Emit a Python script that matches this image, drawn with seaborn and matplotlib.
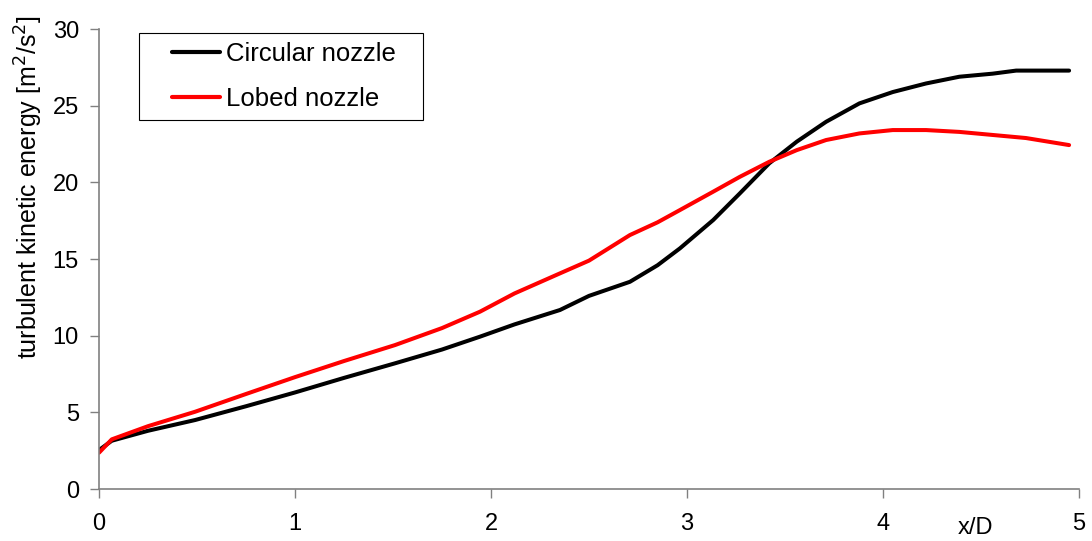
import matplotlib
matplotlib.use("Agg")
import matplotlib.pyplot as plt
from matplotlib.patches import Rectangle
import pandas as pd
import seaborn as sns

# values
x_circular = [0, 0.065, 0.25, 0.49, 0.75, 1.0, 1.25, 1.51, 1.75, 1.944, 2.12, 2.352, 2.5,
              2.709, 2.85, 2.964, 3.134, 3.27, 3.42, 3.56, 3.71, 3.88, 4.05, 4.22, 4.39,
              4.56, 4.68, 4.95]
k_circular = [2.54, 3.15, 3.8, 4.5, 5.4, 6.3, 7.25, 8.2, 9.1, 9.94, 10.74, 11.68, 12.6,
              13.52, 14.6, 15.7, 17.55, 19.29, 21.25, 22.66, 23.96, 25.16, 25.9, 26.46, 26.9,
              27.1, 27.3, 27.3]

x_lobed = [0, 0.065, 0.25, 0.49, 0.75, 1.0, 1.25, 1.51, 1.75, 1.944, 2.12, 2.352, 2.5,
           2.709, 2.85, 2.964, 3.134, 3.27, 3.42, 3.56, 3.71, 3.88, 4.05, 4.22, 4.39,
           4.56, 4.73, 4.95]
k_lobed = [2.37, 3.24, 4.1, 5.04, 6.2, 7.3, 8.35, 9.39, 10.5, 11.57, 12.76, 14.07, 14.9,
           16.57, 17.4, 18.2, 19.4, 20.37, 21.35, 22.11, 22.77, 23.2, 23.42, 23.42, 23.3,
           23.1, 22.9, 22.44]

series_names = ["Circular nozzle", "Lobed nozzle"]
series_colors = ["#000000", "#ff0000"]
x_ticks = [0, 1, 2, 3, 4, 5]
y_ticks = [0, 5, 10, 15, 20, 25, 30]

df = pd.concat([
    pd.DataFrame({"x": x_circular, "k": k_circular, "nozzle": series_names[0]}),
    pd.DataFrame({"x": x_lobed, "k": k_lobed, "nozzle": series_names[1]}),
])

sns.set_style("ticks")
plt.rcParams["font.family"] = ["Liberation Sans", "DejaVu Sans"]
plt.rcParams["text.color"] = "black"
plt.rcParams["axes.labelcolor"] = "black"
plt.rcParams["xtick.labelcolor"] = "black"
plt.rcParams["ytick.labelcolor"] = "black"

fig = plt.figure(figsize=(10.92, 5.41), dpi=100)
ax = fig.add_axes([0.0907, 0.0961, 0.8973, 0.8499])

sns.lineplot(data=df, x="x", y="k", hue="nozzle", palette=dict(zip(series_names, series_colors)),
             linewidth=2.9, sort=False, ax=ax)

ax.set_xlim(0, 5)
ax.set_ylim(0, 30)
ax.set_xticks(x_ticks)
ax.set_yticks(y_ticks)
ax.set_xlabel("")
ax.set_ylabel("turbulent kinetic energy [m$^2$/s$^2$]", fontsize=18)
ax.yaxis.set_label_coords(-0.055, 0.657)
ax.tick_params(direction="out", length=6.5, width=1, color="#808080",
               labelsize=17, pad=11)
ax.tick_params(axis="y", pad=8)

for side in ["top", "right"]:
    ax.spines[side].set_visible(False)
for side in ["left", "bottom"]:
    ax.spines[side].set_color("#808080")
    ax.spines[side].set_linewidth(1.2)

ax.annotate("x/D", xy=(4.47, -0.085), xycoords=("data", "axes fraction"),
            ha="center", va="center", fontsize=17)

# legend box drawn separately: wider side padding than top/bottom
ax.add_patch(Rectangle((0.1273, 0.7782), 0.2601, 0.1608, transform=fig.transFigure,
                       facecolor="white", edgecolor="black", linewidth=0.8,
                       zorder=4, clip_on=False))
leg = ax.legend(loc="upper left", bbox_to_anchor=(0.0745, 0.972), fontsize=18.5,
                frameon=False, handlelength=1.85, handletextpad=0.25, borderpad=0,
                labelspacing=0.8, borderaxespad=0)
leg.set_zorder(6)
for line in leg.get_lines():
    line.set_linewidth(3)

fig.savefig("out.png", dpi=100)
